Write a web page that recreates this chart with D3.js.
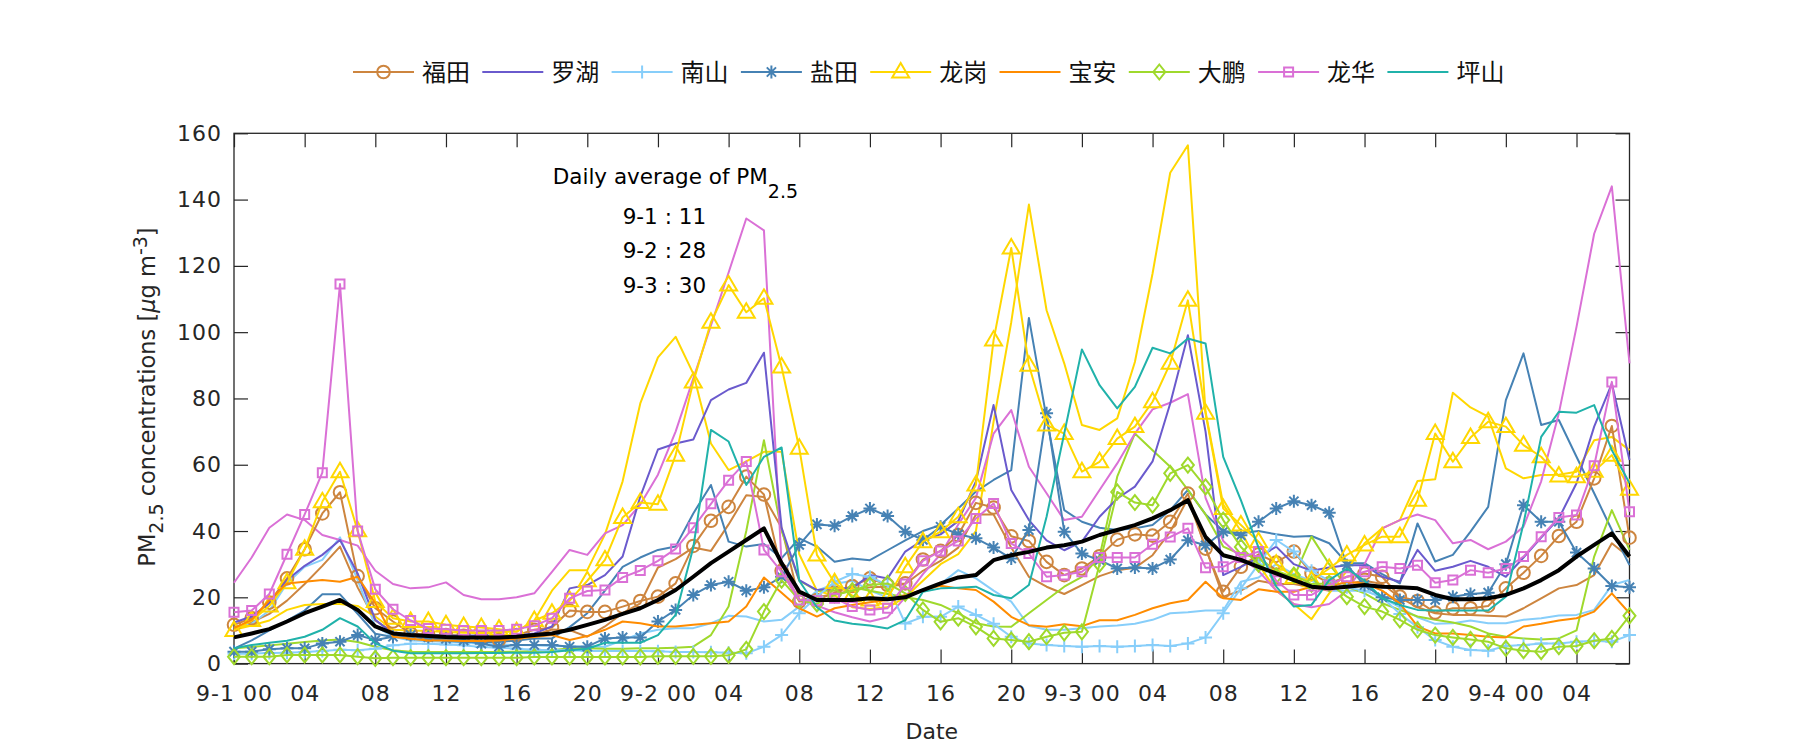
<!DOCTYPE html>
<html><head><meta charset="utf-8">
<script src="https://cdn.jsdelivr.net/npm/d3@7"></script>
<style>body{margin:0;background:#fff}</style>
</head><body>
<svg id="c" width="1800" height="750"></svg>
<script>
// ---------- data ----------
const hours = [0,1,2,3,4,5,6,7,8,9,10,11,12,13,14,15,16,17,18,19,20,21,22,23,24,25,26,27,28,29,30,31,32,33,34,35,36,37,38,39,40,41,42,43,44,45,46,47,48,49,50,51,52,53,54,55,56,57,58,59,60,61,62,63,64,65,66,67,68,69,70,71,72,73,74,75,76,77,78,79];
const tickHours = [0,4,8,12,16,20,24,28,32,36,40,44,48,52,56,60,64,68,72,76];
const tickLabels = ["9-1 00","04","08","12","16","20","9-2 00","04","08","12","16","20","9-3 00","04","08","12","16","20","9-4 00","04"];
const yTicks = [0,20,40,60,80,100,120,140,160];
const legendNames = ["福田","罗湖","南山","盐田","龙岗","宝安","大鹏","龙华","坪山"];

const futianA = [11.7,13.7,18.4,25.7,34.5,45.3,51.7,26.4,16.7,12.7,9.1,8.6,8.6,8.4,7.9,7.1,8.6,
 10.2,10.9,16,15.6,15.6,17.2,18.9,20.2,24.2,35.5,43.1,47.3,56.4,51,28,18.7,19.2,21.4,23.4,25.7,23.7,
 24.2,31.4,34,38.8,48.5,47.1,38.4,37,30.7,26.7,28.7,32.4,37.4,39,38.6,42.8,51.3,34.7,21.7,29.2,
 33,30.5,33.8,27.2,24.2,26.2,27.2,26.2,20.2,18.9,15.4,16.7,16.7,17.4,22.7,27.4,32.5,38.5,42.8,55.9,71.7,38];
const futianB = [11,12.5,15,19,24,29.5,35.3,23,13,9.5,8.5,8,7.5,7,7,7,7.5,
 8.6,10.3,10.1,8.1,11.2,15.2,18.2,29,31.5,35,34,42,50.8,50.3,41,19.2,20,21,22,23,23.2,
 24,28,31,35,45,45,35,26.2,23.2,21,23.7,26.4,28.2,28.9,32.7,39.8,49.8,35,20.2,22,
 25,24,24,23,22,24,25,24,20,17,15.2,14.7,14.7,14.4,14.2,16.7,19.7,22.7,23.7,26.7,36.3,32];
const luohu = [12.4,14.2,18.2,25.2,29.5,32.8,37.3,27.2,13.2,9.1,8.8,8.6,8.5,8.5,8.5,8.4,8.5,
 9.1,11.2,22.7,23.7,26.7,32.3,50.4,64.6,66.4,67.6,79.5,82.7,84.7,93.8,41,25.2,22.2,22.7,22.7,26.7,25.7,
 33.8,37.3,39,43,55,78,52.4,43.3,37.2,34.2,36.8,44.3,49.8,53.4,61,78.5,99.1,70,26.7,29.2,
 32,35.3,30,28,29,29.7,29.7,26.2,24.7,34.3,28,29.2,31,29.2,26.2,32,38,43.8,54.4,71.5,84.5,61.4];
const nanshanA = [3,3,3.2,3.3,3.5,3.8,4.2,4,4.5,5.5,6,6,5.8,5.5,5,4.8,4.5,
 4.2,4,4,3.8,3.8,3.8,3.8,3.7,3.5,3.5,3.4,3.3,3.1,5.1,8.6,
 15.2,20.2,24.7,27,26.2,23.7,12.1,14.1,14.1,17.2,14.7,12,8.1,6.1,5.6,5.3,5.1,5.3,5.1,5.3,5.6,5.3,6.1,7.9,15.2,22.7,
 30,37.3,33.8,28,25,23,22,20,15,11,7.1,5.1,4.1,3.9,5.3,5.6,6.1,6.1,6.6,6.9,6.6,8.6];
const nanshanB = [10.5,12,16,24.2,29.2,31.3,38.1,25.2,11.2,8.1,7,6.8,6.5,6.3,6,5.8,5.6,
 5.5,5.3,5.2,5.1,5.1,7,9.1,10.2,10.7,10.7,12.2,14.4,14.2,12.7,13.2,17.2,22,24,25,22,20,
 20,22,24,28.2,25.7,22,18.7,11.4,10.2,10.2,10.7,11.2,11.5,12,13.2,15.2,15.5,16,16,24.7,
 26,30,27,25,22,22,22,20,17,14,12,12.2,13,12.2,12.2,13.2,13.7,14.5,14.7,16.2,23.7,25.2];
const yantianA = [3.6,3.6,4.3,4.6,4.6,6.1,6.6,8.6,7.1,8.1,8.6,8,7.5,7,6,5.1,5.6,
 5.6,5.6,5.1,5.1,7.6,7.9,7.9,12.7,16.2,20.7,23.7,24.7,22,23,26.2,35.8,42,41.6,44.5,46.8,44.5,
 39.8,37.3,41.3,39,37.8,35,31.7,40.3,75.5,39.8,33.2,31.2,28.7,29,28.7,31.4,37.2,35.7,39.8,38.7,
 42.8,46.8,49,47.8,45.5,29.7,23.7,20,19.2,19.2,19.2,20.2,21,21.4,30,47.8,42.8,42.8,33.5,28.7,23.4,23];
const yantianB = [4.5,7,10,13,16,20.9,20.9,15,9,8,8,7.5,7,6.5,6.5,6.5,7,
 7.6,7.6,11,15.2,22,29.2,32,34.3,35.3,45.3,53.9,36.8,35.3,36.1,31.8,37.8,35.3,30.7,31.7,31.2,34.2,
 37.2,40,41.8,46.8,51.9,55.4,58.4,104.3,74,46.3,42.8,41,40.3,40.8,41.8,46.3,52.4,45,40,39.3,
 40,39,38.3,38.5,36.3,30.3,30.3,27,24.2,42.3,30.8,32.8,39.8,47.3,79.5,93.6,72,73.5,62.4,51.4,40.3,29.7];
const longgangA = [10,13,17.4,24.4,34.5,48.8,57.9,40.1,18.7,13.7,12.7,12.7,11.7,11.2,10.9,10.4,9.6,
 13,15.2,19,25,31.3,44.1,48.6,48.1,62.9,85,103,114.2,106,110.2,89.5,65,32.8,24.4,20.5,19.2,19.7,
 29.2,36.8,39.8,44.3,53.9,97.6,125.4,90,72,69.4,57.9,60.9,67.9,71.5,79,90.6,109.6,75.5,46.8,41.8,
 36.8,30,26,25,28.7,32.8,35.8,38.3,38.3,49.3,69.4,60.9,68.2,73,71.5,65.9,62.4,56.6,56.4,58,62.9,52.6];
const longgangB = [10.2,11.5,13,16.2,17.7,18,18,17.4,14.2,10.2,10,9.8,9.5,9.3,9.3,9.5,9.7,
 13,22,28.2,28.2,39,55,78.5,92.4,98.6,87.5,66.4,58.4,61,63.9,63.9,33,22,20.5,17,16.5,17,
 20,25,30,33,40,73,103,138.5,106.6,90.6,72,70.5,74,91,117.7,148.1,156.4,76,48,40,
 30,22,18,13.4,21.2,28,36.3,40.8,43.3,55.1,55.6,81.7,77.3,74.5,58.9,55.9,56.9,57,57.9,67.4,68.4,64.4];
const baoan = [10.7,13.2,19.2,24.2,24.7,25.2,24.7,26.2,18.2,8.1,7.5,7,7,6.8,6.8,7,7.6,
 8,8.6,7.1,8.3,10.2,12.7,12.2,11.2,11.2,11.7,12.2,12.7,17.2,26,21.4,16.7,14.2,16.7,17.7,18.5,19.2,
 20.7,22.2,23.5,22.7,22.2,18.7,14.1,11.6,11.1,11.9,11.3,13.1,13.1,14.7,16.7,18.2,19.2,24.7,19.7,19.2,
 22.4,21.7,21.7,23.2,23.2,24.7,24.2,22,18.2,11.2,9.1,9.1,8.6,8.1,7.9,11.2,12,13,13.7,15.7,21.2,15.2];
const dapengA = [2.1,2.1,2.1,2.6,2.6,2.6,2.6,2.1,1.6,1.8,1.8,1.8,1.8,1.8,1.8,1.8,1.8,
 2,2,2,2,2,2,2,2.2,2.2,2.2,2.2,2.5,4.3,15.7,25.2,19.2,18,20.7,22,23.7,24.2,
 21.2,16.2,12.6,13.7,11.1,7.6,7.1,6.6,8.1,9.3,9.6,30,51.8,48.6,47.8,57.4,59.9,53.3,43.3,35.2,
 30,26.5,26.7,24,24.2,20.2,17.2,15.7,13.2,10.2,8.6,7.9,7.3,6.6,4.6,3.9,3.6,5.1,5.3,6.9,7.6,14.4];
const dapengB = [4.6,5,5.5,6,6.5,7,7.3,6.5,5.1,4,3.6,3.5,3.5,3.5,3.5,3.5,3.6,
 3.8,4,4.6,4.6,4.5,4.5,4.6,4.6,4.8,5.1,8.6,17.2,40,67.4,40,25,22,22,23,22,21,
 20,19.2,17.7,15.2,12.2,11.2,11.1,15.2,19.2,23.2,26.2,32.3,56.4,69.4,64.4,59.4,52.4,45,35.3,33,
 32,28,26,38.3,30,23.2,21.2,18.2,16.2,14.2,13.2,12.4,11.2,9.1,8.1,7.6,7.3,7.6,10,32.3,46.3,34.3];
const longhuaA = [15.5,16,21,33,45,57.6,114.5,40,22.4,16.4,13,10.6,10.4,10,10,10,10.4,
 11.4,13.7,19.7,21.9,22.2,26,28.1,31,34.6,41,48.2,55.3,61,34.3,27.7,19.2,19,19.7,17.2,16.2,16.7,
 24,31,34,37,43.8,48.3,36.2,33.2,26.2,26.7,27.7,32,32,32,36,38.2,40.8,28.9,29.2,32,
 33.8,25,20.7,20.7,23.7,26.2,27.7,29.2,28.7,29.7,24.4,25.2,28.2,27.4,28.7,32.3,38.3,44.1,44.8,59.7,85,45.8];
const longhuaB = [24.4,32,41,45,43.3,38.8,37.3,35.6,28,24,22.7,23,24.5,20.7,19.4,19.4,20,
 21.2,27.7,34.3,32.8,39.3,41.8,48,57,70,86,102,118,134.3,130.7,30,19,17.5,15.5,14,12.7,14,
 20,27,33,42,50,69.4,76.5,59.4,51.4,43.3,44.3,52.4,60.4,69.4,76.7,78.7,81.3,50,37,32,
 28,22,18,17,18,22,30,40.8,43.3,45,43.3,36.3,37.3,34.5,36.8,41.3,55,75.5,101.6,129.7,144,90.6];
const pingshan = [4.6,5.6,6.3,6.9,8.1,10.2,13.7,11.2,6.1,3.9,3.1,3.1,3.1,3.1,3.2,3.2,3.3,
 3.3,3.5,4,4.5,6.3,6.3,6.3,8.6,14.7,35,70.5,67,53.9,62.4,65.2,25,17,13,12,11.5,10.6,
 13.1,21.7,22.7,22.9,23.2,20.7,19.7,23.7,44.3,69.4,94.8,84,77,83.5,95.3,93.6,98.1,96.6,62.4,49.3,
 35,23.2,17.2,17.7,25.2,28.7,25,19.7,17.7,16.2,16,16,16,16,20.2,42.3,68.4,76,75.7,78,64.4,54.4];
const average = [7.9,9.1,10.4,12.7,15.2,17.2,19.2,16.2,11.2,9.1,8.6,8.3,8,7.9,7.9,7.9,8.1,
 8.6,9.1,10.2,11.7,13.2,15,16.7,19.2,22.2,26.2,30.3,33.8,37.3,40.8,30.3,21.7,19.2,19.2,19.2,19.7,19.4,
 20,22.2,24.2,26,26.7,31.2,32.7,33.7,35,35.7,36.8,38.8,40.3,41.8,43.8,46.3,49.3,38.2,32.7,31.3,
 29.2,27.2,25.2,23.2,22.7,23.2,23.7,23.2,23,22.7,20.7,19.4,19.4,19.7,20.7,22.7,25.2,28.2,32.3,35.8,39.3,32.3];

const annoTitle = "Daily average of PM";
const annoSub = "2.5";
const annoLines = ["9-1 : 11","9-2 : 28","9-3 : 30"];

// ---------- styling ----------
const C = {futian:"#CD853F", luohu:"#6A5ACD", nanshan:"#87CEFA", yantian:"#4682B4",
  longgang:"#FFD700", baoan:"#FF8C00", dapeng:"#9FD92C", longhua:"#DA70D6", pingshan:"#20B2AA"};

const plainSeries = [
  {data:futianB, color:C.futian},
  {data:nanshanB, color:C.nanshan},
  {data:yantianB, color:C.yantian},
  {data:longgangB, color:C.longgang},
  {data:dapengB, color:C.dapeng},
  {data:longhuaB, color:C.longhua},
];
const mainSeries = [
  {name:legendNames[0], data:futianA, color:C.futian, marker:"circle"},
  {name:legendNames[1], data:luohu, color:C.luohu, marker:null},
  {name:legendNames[2], data:nanshanA, color:C.nanshan, marker:"plus"},
  {name:legendNames[3], data:yantianA, color:C.yantian, marker:"star"},
  {name:legendNames[4], data:longgangA, color:C.longgang, marker:"triangle"},
  {name:legendNames[5], data:baoan, color:C.baoan, marker:null},
  {name:legendNames[6], data:dapengA, color:C.dapeng, marker:"diamond"},
  {name:legendNames[7], data:longhuaA, color:C.longhua, marker:"square"},
  {name:legendNames[8], data:pingshan, color:C.pingshan, marker:null},
];

const FONT = "'DejaVu Sans', sans-serif";
const CJK = "'Noto Sans CJK SC', sans-serif";
const AX = "#262626";

const svg = d3.select("#c");
svg.append("rect").attr("width",1800).attr("height",750).attr("fill","#fff");

const L = 234, R = 1629.5, T = 133.3, B = 663.6;
const x = d3.scaleLinear().domain([0,79]).range([L,R]);
const y = d3.scaleLinear().domain([0,160]).range([B,T]);

// axes
const fmt = d => tickLabels[tickHours.indexOf(d)];
const gB = svg.append("g").attr("transform",`translate(0,${B})`)
  .call(d3.axisBottom(x).tickValues(tickHours).tickFormat(fmt).tickSizeInner(-14).tickSizeOuter(0).tickPadding(22));
const gT = svg.append("g").attr("transform",`translate(0,${T})`)
  .call(d3.axisTop(x).tickValues(tickHours).tickFormat("").tickSizeInner(-14).tickSizeOuter(0));
const gL = svg.append("g").attr("transform",`translate(${L},0)`)
  .call(d3.axisLeft(y).tickValues(yTicks).tickSizeInner(-14).tickSizeOuter(0).tickPadding(12));
const gR = svg.append("g").attr("transform",`translate(${R},0)`)
  .call(d3.axisRight(y).tickValues(yTicks).tickFormat("").tickSizeInner(-14).tickSizeOuter(0));
[gB,gT,gL,gR].forEach(g=>{
  g.select(".domain").remove();
  g.selectAll(".tick line").attr("stroke",AX).attr("stroke-width",1.2);
  g.selectAll("text").attr("fill",AX).style("font-family",FONT).style("font-size","22px");
});
gB.selectAll("text").style("letter-spacing","1px");
gL.selectAll("text").style("letter-spacing","1px");
svg.append("rect").attr("x",L).attr("y",T).attr("width",R-L).attr("height",B-T)
  .attr("fill","none").attr("stroke",AX).attr("stroke-width",1.3);

// marker shapes
function markerPath(type){
  switch(type){
    case "triangle": return "M0,-9L8.5,5.5L-8.5,5.5Z";
    case "square": return "M-4.5,-4.5H4.5V4.5H-4.5Z";
    case "diamond": return "M0,-7.5L6,0L0,7.5L-6,0Z";
    case "plus": return "M-6.5,0H6.5M0,-6.5V6.5";
    case "star": return "M-6.5,0H6.5M0,-6.5V6.5M-4.6,-4.6L4.6,4.6M-4.6,4.6L4.6,-4.6";
  }
  return null;
}
function drawMarker(g, type, color){
  if(!type) return;
  if(type==="circle"){
    g.append("circle").attr("r",6.3).attr("fill","none").attr("stroke",color).attr("stroke-width",2);
  } else {
    g.append("path").attr("d",markerPath(type)).attr("fill","none").attr("stroke",color).attr("stroke-width",2);
  }
}

const line = d3.line().x((d,i)=>x(hours[i])).y(d=>y(d));
const plot = svg.append("g");

plainSeries.forEach(s=>{
  plot.append("path").datum(s.data).attr("d",line).attr("fill","none")
    .attr("stroke",s.color).attr("stroke-width",2).attr("stroke-linejoin","round");
});
mainSeries.forEach(s=>{
  plot.append("path").datum(s.data).attr("d",line).attr("fill","none")
    .attr("stroke",s.color).attr("stroke-width",2).attr("stroke-linejoin","round");
  if(s.marker){
    s.data.forEach((v,i)=>{
      const g = plot.append("g").attr("transform",`translate(${x(hours[i])},${y(v)})`);
      drawMarker(g, s.marker, s.color);
    });
  }
});
plot.append("path").datum(average).attr("d",line).attr("fill","none")
  .attr("stroke","#000").attr("stroke-width",4).attr("stroke-linejoin","round");

// legend
const lg = svg.append("g");
mainSeries.forEach((s,i)=>{
  const x0 = 353 + i*129.3, yy = 72;
  const g = lg.append("g").attr("transform",`translate(${x0},${yy})`);
  g.append("line").attr("x1",0).attr("x2",61).attr("stroke",s.color).attr("stroke-width",2);
  const m = g.append("g").attr("transform","translate(30.5,0)");
  drawMarker(m, s.marker, s.color);
  g.append("text").attr("x",69).attr("y",0).attr("dy","0.36em").text(s.name)
    .style("font-family",CJK).style("font-size","24px").attr("fill","#111");
});

// annotation
const at = svg.append("text").attr("x",552.7).attr("y",184)
  .style("font-family",FONT).style("font-size","21.5px").attr("fill","#000");
at.append("tspan").text(annoTitle);
at.append("tspan").attr("dy",13.5).style("font-size","19px").text(annoSub);
annoLines.forEach((t,i)=>{
  svg.append("text").attr("x",622.7).attr("y",224+i*34.4).text(t)
    .style("font-family",FONT).style("font-size","21.5px").attr("fill","#000");
});

// axis labels
svg.append("text").attr("x",(L+R)/2).attr("y",739).attr("text-anchor","middle")
  .style("font-family",FONT).style("font-size","22px").attr("fill",AX).text("Date");
const yl = svg.append("text").attr("transform","translate(155,397) rotate(-90)").attr("text-anchor","middle")
  .style("font-family",FONT).style("font-size","22.5px").attr("fill",AX);
yl.append("tspan").text("PM");
yl.append("tspan").attr("dy",8).style("font-size","19px").text("2.5");
yl.append("tspan").attr("dy",-8).text(" concentrations [");
yl.append("tspan").style("font-style","italic").text("μ");
yl.append("tspan").text("g m");
yl.append("tspan").attr("dy",-8).style("font-size","19px").text("-3");
yl.append("tspan").attr("dy",8).text("]");
</script>
</body></html>
